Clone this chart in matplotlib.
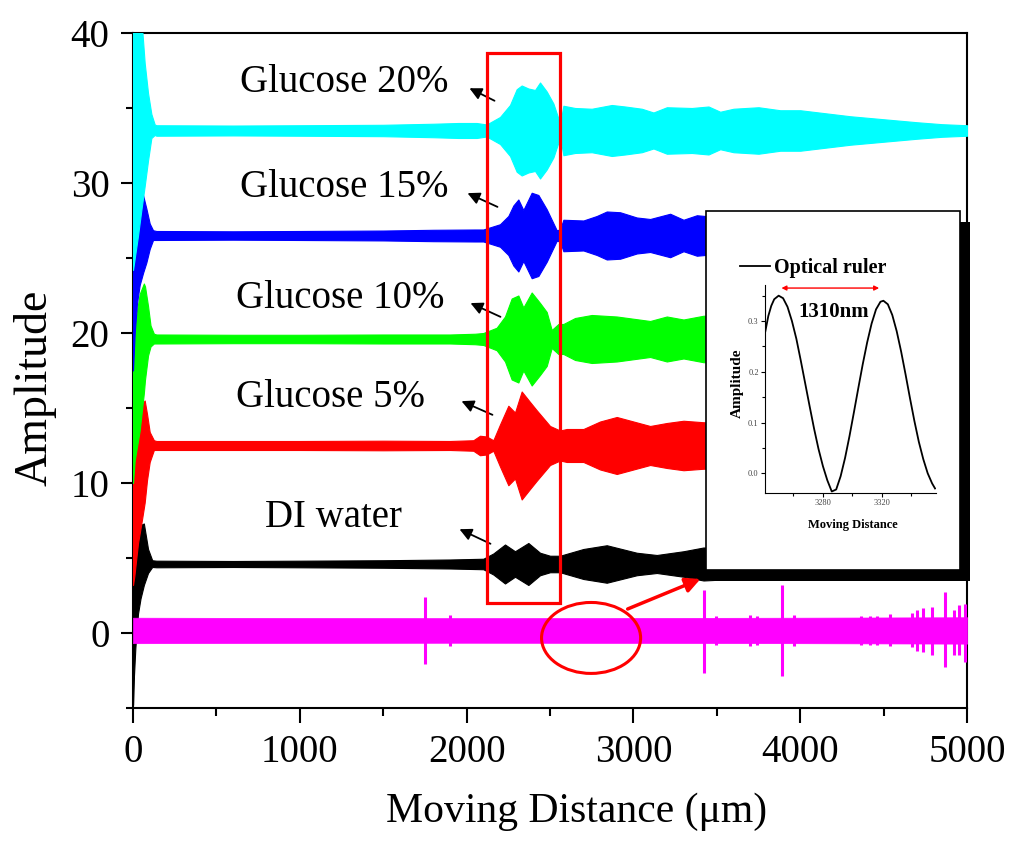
import matplotlib
matplotlib.use('Agg')
import matplotlib.pyplot as plt
from matplotlib.patches import Rectangle, Ellipse
from matplotlib.ticker import MultipleLocator

plt.rcParams['font.family'] = ['Liberation Serif', 'DejaVu Serif']

# ---- main traces: start-up spike (x, upper, lower) + body half-width envelope ----
cyan_base = 33.5
cyan_spike_x = [0, 30, 50, 70, 90, 110, 130]
cyan_spike_up = [41, 41, 41, 38, 36, 34.6, 33.9]
cyan_spike_lo = [24.2, 26.5, 28.2, 29.8, 31.5, 33.0, 33.2]
cyan_x = [140, 600, 1000, 1500, 1800, 1950, 2060, 2120, 2200, 2260, 2300, 2330, 2370, 2410,
          2440, 2480, 2520, 2550, 2565, 2580, 2650, 2750, 2870, 2950, 3050, 3120, 3200,
          3350, 3450, 3520, 3600, 3750, 3880, 4000, 4150, 4300, 4500, 4700, 4850, 5000]
cyan_hw = [0.35, 0.33, 0.35, 0.38, 0.45, 0.5, 0.5, 0.4, 0.9, 1.7, 2.75, 3.0, 2.8, 2.7,
           3.2, 2.6, 1.8, 0.8, 0.7, 1.65, 1.5, 1.45, 1.7, 1.6, 1.45, 1.2, 1.55,
           1.5, 1.6, 1.25, 1.45, 1.55, 1.35, 1.35, 1.15, 0.95, 0.75, 0.55, 0.42, 0.35]

blue_base = 26.5
blue_spike_x = [0, 10, 24, 40, 60, 80, 100, 120]
blue_spike_up = [27.5, 28.2, 28.7, 29.0, 29.2, 28.3, 27.3, 26.85]
blue_spike_lo = [17.5, 20.0, 22.0, 23.2, 24.0, 24.7, 25.6, 26.2]
blue_x = [140, 600, 1000, 1500, 1800, 2050, 2100, 2200, 2250, 2280, 2310, 2340, 2390, 2430,
          2480, 2540, 2560, 2580, 2700, 2780, 2840, 2920, 3020, 3100, 3220, 3300, 3380,
          3430, 3600, 4000, 4500, 5000]
blue_hw = [0.3, 0.28, 0.3, 0.33, 0.38, 0.4, 0.4, 0.75, 1.3, 2.0, 2.4, 1.7, 2.85, 2.7,
           1.75, 0.35, 0.4, 1.05, 1.0, 1.3, 1.6, 1.55, 1.2, 1.1, 1.45, 1.05, 1.35,
           1.3, 1.3, 1.2, 0.8, 0.5]

green_base = 19.6
green_spike_x = [0, 10, 40, 65, 72, 90, 105, 125]
green_spike_up = [18, 20.5, 22.6, 23.3, 23.1, 21.8, 20.5, 19.95]
green_spike_lo = [10.0, 11.5, 13.5, 16.0, 16.9, 18.5, 19.1, 19.3]
green_x = [140, 600, 1000, 1500, 1900, 2050, 2100, 2180, 2230, 2270, 2310, 2340, 2390, 2440,
           2480, 2510, 2550, 2580, 2650, 2750, 2900, 3100, 3200, 3300, 3420, 4000, 4500, 5000]
green_hw = [0.3, 0.28, 0.28, 0.3, 0.3, 0.35, 0.4, 0.75, 1.5, 2.7, 2.9, 2.1, 3.1, 2.4,
            1.8, 0.6, 1.0, 1.0, 1.4, 1.6, 1.5, 1.2, 1.5, 1.3, 1.55, 1.4, 1.0, 0.6]

red_base = 12.5
red_spike_x = [0, 8, 30, 50, 70, 84, 100, 125]
red_spike_up = [10, 11.5, 14.3, 15.2, 15.5, 14.6, 13.4, 12.85]
red_spike_lo = [3.2, 3.8, 6.0, 7.3, 8.7, 10.2, 11.4, 12.2]
red_x = [140, 600, 1000, 1500, 1900, 2040, 2080, 2120, 2160, 2200, 2250, 2290, 2330, 2380,
         2420, 2500, 2560, 2600, 2700, 2800, 2900, 3000, 3100, 3200, 3300, 3420, 4000, 4500, 5000]
red_hw = [0.3, 0.3, 0.3, 0.32, 0.3, 0.35, 0.65, 0.6, 0.35, 1.4, 2.65, 2.2, 3.6, 2.9,
          2.35, 1.3, 1.0, 1.1, 1.1, 1.6, 1.9, 1.6, 1.3, 1.5, 1.65, 1.55, 1.5, 1.2, 0.8]

black_base = 4.6
black_spike_x = [0, 5, 14, 30, 45, 65, 90, 115]
black_spike_up = [3, 5.5, 6.5, 7.0, 7.2, 7.3, 5.6, 4.85]
black_spike_lo = [-4.8, -3.0, -1.0, 1.3, 2.3, 3.2, 4.0, 4.4]
black_x = [140, 600, 1000, 1500, 1900, 2100, 2160, 2230, 2290, 2370, 2440, 2500, 2560,
           2700, 2840, 3020, 3140, 3300, 3420, 3600, 4000, 4500, 5000]
black_hw = [0.22, 0.2, 0.22, 0.25, 0.3, 0.35, 0.7, 1.3, 0.85, 1.4, 0.75, 0.55, 0.55,
            1.0, 1.25, 0.75, 0.6, 0.85, 1.1, 1.0, 0.9, 0.7, 0.5]

magenta_base = 0.17
magenta_x = [0, 1000, 2000, 3000, 4000, 5000]
magenta_hw = [0.85, 0.83, 0.82, 0.83, 0.85, 0.88]
magenta_spike_x = [1750, 1900, 3420, 3495, 3700, 3740, 3890, 3960, 4365, 4420, 4460,
                   4540, 4670, 4700, 4735, 4790, 4870, 4920, 4950, 4990]
magenta_spike_top = [2.4, 1.2, 2.87, 1.15, 1.2, 1.15, 3.2, 1.2, 1.15, 1.15, 1.15,
                     1.25, 1.3, 1.5, 1.65, 1.75, 2.7, 1.5, 1.85, 1.9]
magenta_spike_bot = [-2.1, -0.85, -2.7, -0.8, -0.85, -0.8, -2.9, -0.85, -0.8, -0.8, -0.8,
                     -0.85, -0.95, -1.2, -1.3, -1.5, -2.3, -1.45, -1.5, -1.95]

labels = ['Glucose 20%', 'Glucose 15%', 'Glucose 10%', 'Glucose 5%', 'DI water']
label_x = [641, 641, 617, 617, 791]
label_y = [36.7, 29.7, 22.3, 15.7, 7.7]
arrow_tail = [(2182, 35.4), (2200, 28.33), (2218, 21.0), (2170, 14.47), (2158, 5.87)]
arrow_head = [(2002, 36.4), (1990, 29.4), (2008, 22.07), (1954, 15.53), (1942, 7.0)]

# inset: optical ruler
ruler_x = [3241, 3243, 3245, 3247, 3250, 3253, 3256, 3259, 3262, 3265, 3268, 3271, 3274,
           3277, 3280, 3283, 3286, 3289, 3292, 3295, 3298, 3301, 3304, 3307, 3310, 3313,
           3316, 3319, 3321, 3324, 3327, 3330, 3333, 3336, 3339, 3342, 3345, 3348, 3351,
           3354, 3356]
ruler_y = [0.28, 0.31, 0.33, 0.343, 0.35, 0.345, 0.328, 0.30, 0.265, 0.222, 0.177, 0.132, 0.088,
           0.048, 0.014, -0.014, -0.036, -0.032, -0.006, 0.03, 0.073, 0.12, 0.168, 0.215, 0.258, 0.295,
           0.323, 0.338, 0.34, 0.333, 0.312, 0.28, 0.24, 0.195, 0.148, 0.103, 0.062, 0.028, 0.0,
           -0.02, -0.03]


def draw_trace(ax, color, base, sx, sup, slo, bx, bhw, z):
    x = sx + bx
    up = sup + [base + h for h in bhw]
    lo = slo + [base - h for h in bhw]
    ax.fill_between(x, lo, up, color=color, lw=0.8, edgecolor=color, zorder=z)


fig = plt.figure(figsize=(10.24, 8.48), dpi=100)
ax = fig.add_axes([0.1299, 0.1651, 0.8145, 0.796])

draw_trace(ax, 'black', black_base, black_spike_x, black_spike_up, black_spike_lo, black_x, black_hw, 2)
draw_trace(ax, '#FF0000', red_base, red_spike_x, red_spike_up, red_spike_lo, red_x, red_hw, 3)
draw_trace(ax, '#00FF00', green_base, green_spike_x, green_spike_up, green_spike_lo, green_x, green_hw, 4)
draw_trace(ax, '#0000FF', blue_base, blue_spike_x, blue_spike_up, blue_spike_lo, blue_x, blue_hw, 5)
draw_trace(ax, '#00FFFF', cyan_base, cyan_spike_x, cyan_spike_up, cyan_spike_lo, cyan_x, cyan_hw, 6)

ax.fill_between(magenta_x, [magenta_base - h for h in magenta_hw],
                [magenta_base + h for h in magenta_hw], color='#FF00FF', lw=0.5, zorder=7)
ax.vlines(magenta_spike_x, magenta_spike_bot, magenta_spike_top, color='#FF00FF', lw=2.2, zorder=7)

for t, x, y in zip(labels, label_x, label_y):
    ax.text(x, y, t, fontsize=28, ha='left', va='center', zorder=9)
for tail, head in zip(arrow_tail, arrow_head):
    ax.annotate('', xy=head, xytext=tail,
                arrowprops=dict(arrowstyle='-|>', color='black', lw=1.3, mutation_scale=18),
                zorder=9)

ax.add_patch(Rectangle((2122, 2.0), 438, 36.67, fill=False, ec='red', lw=2.3, zorder=10))
ax.add_patch(Ellipse((2746, -0.33), 594, 4.73, fill=False, ec='red', lw=2.2, zorder=10))
ax.annotate('', xy=(3417, 3.67), xytext=(2950, 1.53),
            arrowprops=dict(arrowstyle='-|>', color='red', lw=2.5, mutation_scale=22), zorder=10)

ax.set_xlim(0, 5000)
ax.set_ylim(-5, 40)
ax.xaxis.set_major_locator(MultipleLocator(1000))
ax.xaxis.set_minor_locator(MultipleLocator(500))
ax.yaxis.set_major_locator(MultipleLocator(10))
ax.yaxis.set_minor_locator(MultipleLocator(5))
ax.tick_params(which='both', direction='out', top=False, right=False, labelsize=28, width=1.5)
ax.tick_params(axis='x', which='major', length=11, pad=8)
ax.tick_params(axis='x', which='minor', length=6)
ax.tick_params(axis='y', which='major', length=9, pad=8)
ax.tick_params(axis='y', which='minor', length=5)
for s in ax.spines.values():
    s.set_linewidth(1.5)

fig.text(0.5635, 0.0425, 'Moving Distance (μm)', fontsize=30, ha='center', va='center')
fig.text(0.0342, 0.5425, 'Amplitude', fontsize=33, ha='center', va='center', rotation=90)

# inset box with shadow
fig.add_artist(Rectangle((0.6982, 0.3149), 0.2491, 0.4233, transform=fig.transFigure,
                         fc='black', ec='none', zorder=2))
fig.add_artist(Rectangle((0.6895, 0.3278), 0.248, 0.4234, transform=fig.transFigure,
                         fc='white', ec='black', lw=1.2, zorder=3))

axi = fig.add_axes([0.747, 0.4186, 0.167, 0.2453], zorder=4)
axi.set_facecolor('none')
axi.plot(ruler_x, ruler_y, color='black', lw=1.3, label='Optical ruler')
axi.set_xlim(3240.7, 3356.6)
axi.set_ylim(-0.039, 0.371)
axi.spines['top'].set_visible(False)
axi.spines['right'].set_visible(False)
axi.xaxis.set_major_locator(MultipleLocator(40))
axi.xaxis.set_minor_locator(MultipleLocator(20))
axi.yaxis.set_major_locator(MultipleLocator(0.1))
axi.yaxis.set_minor_locator(MultipleLocator(0.05))
axi.yaxis.set_major_formatter(plt.FormatStrFormatter('%.1f'))
axi.tick_params(which='both', direction='out', labelsize=6, labelcolor='#444444', width=0.8, pad=1.5)
axi.tick_params(which='major', length=3)
axi.tick_params(which='minor', length=2)
axi.annotate('', xy=(3250, 0.365), xytext=(3320, 0.365),
             arrowprops=dict(arrowstyle='<|-|>', color='red', lw=1, mutation_scale=7))
axi.text(3287.5, 0.318, '1310nm', fontsize=15, fontweight='bold', ha='center', va='center')
axi.legend(loc='center left', bbox_to_anchor=(0.7227, 0.684), bbox_transform=fig.transFigure,
           frameon=False, prop={'weight': 'bold', 'size': 14.5},
           handlelength=1.5, handletextpad=0.2, borderpad=0, borderaxespad=0)
fig.text(0.7197, 0.5484, 'Amplitude', fontsize=11, fontweight='bold', rotation=90,
         ha='center', va='center', zorder=5)
fig.text(0.833, 0.381, 'Moving Distance', fontsize=9, fontweight='bold',
         ha='center', va='center', zorder=5)

fig.savefig('out.png', dpi=100)
